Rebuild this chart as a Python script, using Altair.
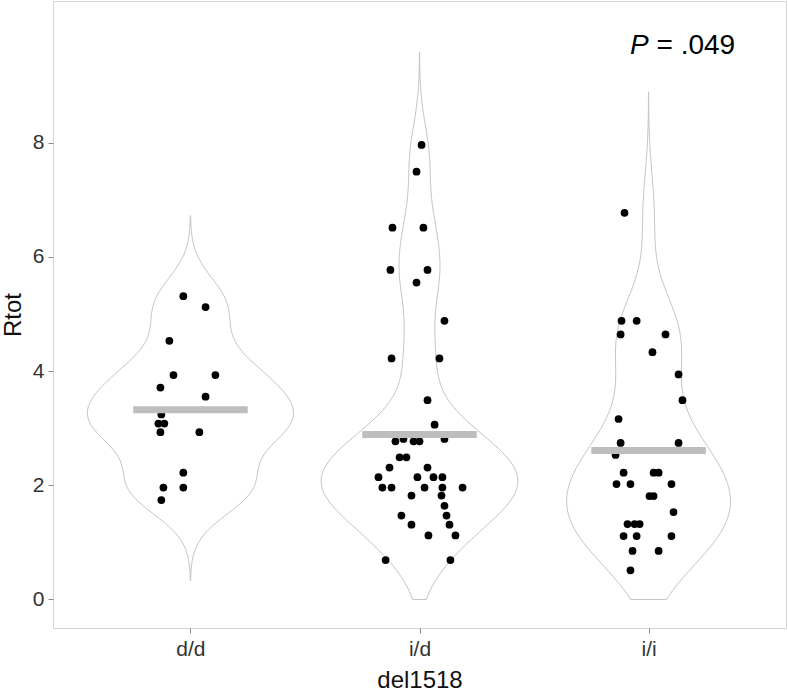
import altair as alt
import pandas as pd
import numpy as np

categories = ["d/d", "i/d", "i/i"]

# Rtot values and horizontal jitter (in category units)
dd_values = [5.31, 5.12, 4.53, 3.93, 3.93, 3.71, 3.55, 3.24, 3.08, 3.08, 2.93, 2.93, 2.22, 1.96, 1.96, 1.74]
dd_jitter = [-0.031, 0.066, -0.092, -0.074, 0.109, -0.131, 0.066, -0.127, -0.140, -0.114, -0.131, 0.039, -0.031, -0.118, -0.031, -0.127]

id_values = [7.96, 7.49, 6.51, 6.51, 5.77, 5.77, 5.55, 4.88, 4.22, 4.22, 3.49, 3.06, 2.81, 2.81, 2.77, 2.77, 2.77,
             2.49, 2.49, 2.31, 2.31, 2.14, 2.14, 2.14, 2.14, 1.96, 1.96, 1.96, 1.96, 1.96, 1.82, 1.82, 1.64,
             1.47, 1.47, 1.31, 1.31, 1.12, 1.12, 0.69, 0.69]
id_jitter = [0.009, -0.013, -0.118, 0.017, -0.127, 0.035, -0.013, 0.109, -0.122, 0.087, 0.035, 0.066, 0.109, -0.070,
             -0.105, -0.026, 0.0, -0.087, -0.057, -0.131, 0.035, -0.179, -0.009, 0.061, 0.100, -0.162, -0.122,
             0.022, 0.100, 0.188, -0.035, 0.096, 0.109, -0.079, 0.118, -0.035, 0.131, 0.039, 0.157, -0.148, 0.135]

ii_values = [6.77, 4.88, 4.88, 4.64, 4.64, 4.33, 3.94, 3.49, 3.16, 2.74, 2.74, 2.53, 2.22, 2.22, 2.22, 2.02, 2.02,
             2.02, 1.81, 1.81, 1.53, 1.32, 1.32, 1.32, 1.11, 1.11, 1.11, 0.85, 0.85, 0.51]
ii_jitter = [-0.105, -0.118, -0.052, -0.122, 0.074, 0.017, 0.131, 0.148, -0.131, -0.122, 0.131, -0.144, -0.109,
             0.022, 0.044, -0.140, -0.079, 0.100, 0.004, 0.022, 0.109, -0.092, -0.061, -0.039, -0.109, -0.052,
             0.100, -0.070, 0.044, -0.079]

bar_means = [3.32, 2.89, 2.61]
violin_bw = [0.46, 0.55, 0.70]
violin_extent = [[0.33, 6.72], [0.0, 9.59], [0.0, 8.89]]

p_value_text = "= .049"
p_label_pos = [3, 9.55]

# ---- tables ----
rows = []
for gi, (vals, jit) in enumerate([(dd_values, dd_jitter), (id_values, id_jitter), (ii_values, ii_jitter)]):
    for v, j in zip(vals, jit):
        rows.append({"g": gi + 1, "cat": categories[gi], "Rtot": v, "xpos": gi + 1 + j})
points_df = pd.DataFrame(rows)

bars_df = pd.DataFrame({"g": [1, 2, 3], "cat": categories, "mean": bar_means})
label_df = pd.DataFrame({"x": [p_label_pos[0]], "y": [p_label_pos[1]]})

# scale="area": max half-width of widest violin = 0.45 category units
def kde_max(vals, bw, ext):
    grid = np.linspace(ext[0], ext[1], 400)
    v = np.array(vals)[:, None]
    d = np.exp(-0.5 * ((grid[None, :] - v) / bw) ** 2).sum(axis=0) / (len(vals) * bw * np.sqrt(2 * np.pi))
    return d.max()

all_vals = [dd_values, id_values, ii_values]
gmax = max(kde_max(all_vals[i], violin_bw[i], violin_extent[i]) for i in range(3))
C = 0.45 / gmax

FONT = "Liberation Sans"
label_expr = " : ".join([f"datum.value == {i+1} ? '{c}'" for i, c in enumerate(categories)]) + " : ''"

xscale = alt.Scale(domain=[0.4, 3.6], nice=False, zero=False)
yscale = alt.Scale(domain=[-0.5, 10.48], nice=False, zero=False)
xaxis = alt.Axis(values=[1, 2, 3], labelExpr=label_expr, title="del1518", grid=False, domain=False,
                 tickSize=5, tickColor="#8a8a8a", labelPadding=5, labelFontSize=21, labelColor="#333333",
                 labelFont=FONT, titleFont=FONT, titleFontSize=24, titleFontWeight="normal",
                 titleColor="#111111", titlePadding=9)
yaxis = alt.Axis(values=[0, 2, 4, 6, 8], title="Rtot", grid=False, domain=False,
                 tickSize=5, tickColor="#8a8a8a", labelPadding=4, labelFontSize=21, labelColor="#333333",
                 labelFont=FONT, titleFont=FONT, titleFontSize=24, titleFontWeight="normal",
                 titleColor="#111111", titlePadding=7)

layers = []
for i in range(3):
    g = i + 1
    v = (alt.Chart(points_df)
         .transform_filter(alt.datum.g == g)
         .transform_density("Rtot", as_=["value", "density"], bandwidth=violin_bw[i],
                            extent=violin_extent[i], steps=200)
         .transform_calculate(left=f"{g} - datum.density * {C}", right=f"{g} + datum.density * {C}")
         .mark_area(orient="horizontal", fillOpacity=0, stroke="#c4c4c4", strokeWidth=1)
         .encode(y=alt.Y("value:Q", scale=yscale, axis=yaxis),
                 x=alt.X("left:Q", scale=xscale, axis=xaxis),
                 x2="right:Q"))
    layers.append(v)

pts = alt.Chart(points_df).mark_circle(size=60, color="black", opacity=1).encode(
    x=alt.X("xpos:Q", scale=xscale, axis=xaxis),
    y=alt.Y("Rtot:Q", scale=yscale, axis=yaxis),
)
layers.append(pts)

bars = (alt.Chart(bars_df)
        .transform_calculate(x1="datum.g - 0.25", x2="datum.g + 0.25")
        .mark_rule(color="#bebebe", strokeWidth=7, strokeCap="butt")
        .encode(x=alt.X("x1:Q", scale=xscale, axis=xaxis), x2="x2:Q",
                y=alt.Y("mean:Q", scale=yscale, axis=yaxis)))
layers.append(bars)

p_italic = alt.Chart(label_df).mark_text(align="right", baseline="alphabetic", font=FONT, fontSize=28,
                                         fontStyle="italic", color="black").encode(
    x=alt.X("x:Q", scale=xscale, axis=xaxis), y=alt.Y("y:Q", scale=yscale, axis=yaxis), text=alt.value("P"))
p_rest = alt.Chart(label_df).mark_text(align="left", baseline="alphabetic", font=FONT, fontSize=28,
                                       dx=8, color="black").encode(
    x=alt.X("x:Q", scale=xscale, axis=xaxis), y=alt.Y("y:Q", scale=yscale, axis=yaxis),
    text=alt.value(p_value_text))
layers += [p_italic, p_rest]

chart = (alt.layer(*layers)
         .properties(width=733, height=627,
                     padding={"left": 53, "top": 1, "right": 2, "bottom": 65},
                     autosize=alt.AutoSizeParams(type="none"),
                     background="white")
         .configure_view(stroke="#d6d6d6", strokeWidth=1))

chart.save("out.html", embed_options={"renderer": "svg", "actions": False})
